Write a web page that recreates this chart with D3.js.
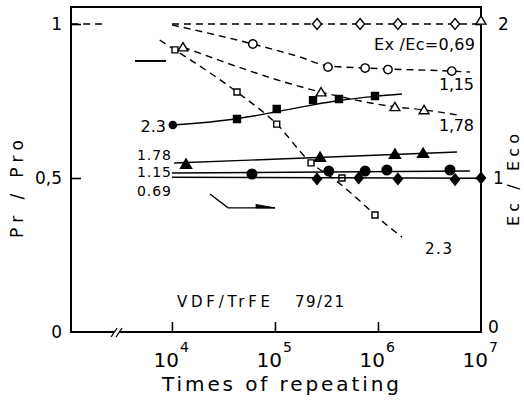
<!DOCTYPE html>
<html><head><meta charset="utf-8">
<script src="https://cdn.jsdelivr.net/npm/d3@7"></script>
<style>
body{margin:0;background:#fff}
svg{display:block}
text{font-family:"DejaVu Sans",sans-serif;fill:#000}
</style>
</head><body>
<svg id="c" width="524" height="400"></svg>
<script>
// ---------- axis ticks ----------
const xTicks = [1e4, 1e5, 1e6, 1e7];
const xTickExp = ["4", "5", "6", "7"];
const yLeftTicks = [0, 0.5, 1];
const yLeftLabels = ["0", "0,5", "1"];
const yRightTicks = [0, 1, 2];
const yRightLabels = ["0", "1", "2"];

// ---------- Pr/Pro (dashed, open markers, left axis 0-1) ----------
// Ex/Ec = 0.69 (open diamonds)
const pr069LineN = [1e4, 1e7];
const pr069LineV = [1.0, 1.0];
const pr069PreN = [1050, 2140];          // dashed stub left of the break
const pr069PreV = [1.0, 1.0];
const pr069N = [2.56e5, 6.7e5, 1.56e6, 5.6e6];
const pr069V = [1.0, 1.0, 1.0, 1.0];
const prEdgeN = [1e7];                     // open triangle on right edge
const prEdgeV = [1.012];
// Ex/Ec = 1.15 (open circles)
const pr115LineN = [1e4, 6.1e4, 1.75e5, 3.27e5, 7.5e5, 1.25e6, 5.2e6, 7.8e6];
const pr115LineV = [0.997, 0.935, 0.893, 0.864, 0.857, 0.854, 0.847, 0.844];
const pr115N = [6.1e4, 3.27e5, 7.5e5, 1.25e6, 5.2e6];
const pr115V = [0.935, 0.86, 0.857, 0.852, 0.847];
// Ex/Ec = 1.78 (open triangles)
const pr178LineN = [1.28e4, 2.8e5, 1.46e6, 2.8e6, 5.85e6];
const pr178LineV = [0.925, 0.779, 0.731, 0.721, 0.705];
const pr178N = [1.28e4, 2.8e5, 1.46e6, 2.8e6];
const pr178V = [0.925, 0.779, 0.731, 0.721];
// Ex/Ec = 2.3 (open squares)
const pr23LineN = [7.6e3, 1.07e4, 4.28e4, 1.04e5, 2.24e5, 3.83e5, 7.0e5, 9.35e5, 1.71e6];
const pr23LineV = [0.948, 0.916, 0.779, 0.675, 0.549, 0.494, 0.419, 0.380, 0.308];
const pr23N = [1.07e4, 4.28e4, 1.04e5, 2.24e5, 4.47e5, 9.35e5];
const pr23V = [0.916, 0.779, 0.675, 0.549, 0.50, 0.380];

// ---------- Ec/Eco (solid, filled markers, right axis 0-2) ----------
// 2.3 (filled circle + filled squares)
const ec23LineN = [1.02e4, 4.28e4, 1.04e5, 2.34e5, 4.18e5, 9.35e5, 1.71e6];
const ec23LineV = [1.344, 1.385, 1.43, 1.475, 1.503, 1.53, 1.545];
const ec23CircN = [1.02e4];
const ec23CircV = [1.344];
const ec23N = [4.28e4, 1.04e5, 2.34e5, 4.18e5, 9.35e5];
const ec23V = [1.383, 1.448, 1.506, 1.513, 1.532];
// 1.78 (filled triangles)
const ec178LineN = [1.05e4, 5.85e6];
const ec178LineV = [1.097, 1.169];
const ec178N = [1.37e4, 2.74e5, 1.46e6, 2.74e6];
const ec178V = [1.091, 1.136, 1.156, 1.162];
// 1.15 (filled circles)
const ec115LineN = [1e4, 7.8e6];
const ec115LineV = [1.032, 1.045];
const ec115N = [5.98e4, 3.33e5, 7.5e5, 1.22e6, 5.0e6];
const ec115V = [1.026, 1.045, 1.045, 1.052, 1.052];
// 0.69 (filled diamonds)
const ec069LineN = [1e4, 1e7];
const ec069LineV = [1.005, 0.998];
const ec069N = [2.56e5, 6.5e5, 1.56e6, 5.6e6, 1e7];
const ec069V = [0.994, 1.0, 0.994, 0.99, 1.0];

// ---------- scales ----------
const svg = d3.select("#c");
const x = d3.scaleLog().domain([10 ** 3.02, 1e7]).range([71, 481]);
const yL = d3.scaleLinear().domain([0, 1]).range([332, 24]);
const yR = d3.scaleLinear().domain([0, 2]).range([332, 24]);
const X0 = x.range()[0], X1 = x.range()[1], YB = yL(0), YT = yL(1.055);

// ---------- frame ----------
const frame = svg.append("g").attr("stroke", "#000").attr("stroke-width", 2).attr("fill", "none");
frame.append("path").attr("d", `M${X0},${YT}H${X1}V${YB}H${X0}Z`);

// x ticks (inward)
const gx = svg.append("g").attr("transform", `translate(0,${YB})`)
  .call(d3.axisBottom(x).tickValues(xTicks.slice(0, 3)).tickSize(-10).tickFormat(""));
gx.select(".domain").remove();
gx.selectAll(".tick line").attr("stroke-width", 1.6);
// y ticks (inward)
const gy = svg.append("g").attr("transform", `translate(${X0},0)`)
  .call(d3.axisLeft(yL).tickValues([0.5, 1]).tickSize(-10).tickFormat(""));
gy.select(".domain").remove();
gy.selectAll(".tick line").attr("stroke-width", 1.6);
const gyr = svg.append("g").attr("transform", `translate(${X1},0)`)
  .call(d3.axisRight(yR).tickValues([1, 2]).tickSize(-6).tickFormat(""));
gyr.select(".domain").remove();
gyr.selectAll(".tick line").attr("stroke-width", 1.6);

// axis break marks
const bx = x(2.93e3);
svg.append("rect").attr("x", bx - 3).attr("y", YB - 3).attr("width", 5).attr("height", 6).attr("fill", "#fff");
[-3, 2].forEach(o => svg.append("line").attr("x1", bx + o - 3).attr("y1", YB + 5)
  .attr("x2", bx + o + 3).attr("y2", YB - 4).attr("stroke", "#000").attr("stroke-width", 1.3));

// x tick labels: 10^n
xTicks.forEach((t, i) => {
  svg.append("text").attr("x", x(t) + 7).attr("y", 367).attr("text-anchor", "end")
    .attr("font-size", 20).text("10");
  svg.append("text").attr("x", x(t) + 8).attr("y", 352).attr("font-size", 14).text(xTickExp[i]);
});
// y tick labels
yLeftTicks.forEach((t, i) => {
  svg.append("text").attr("x", 62).attr("y", yL(t) + 6).attr("text-anchor", "end")
    .attr("font-size", 17).text(yLeftLabels[i]);
});
yRightTicks.forEach((t, i) => {
  svg.append("text").attr("x", 488 + i * 5).attr("y", yR(t) + (t === 0 ? 1 : 6))
    .attr("font-size", 17).text(yRightLabels[i]);
});

// axis titles
svg.append("text").attr("x", 162).attr("y", 391).attr("font-size", 20)
  .attr("textLength", 237).attr("lengthAdjust", "spacing").text("Times of repeating");
svg.append("text").attr("transform", "translate(23,238) rotate(-90)").attr("font-size", 17)
  .attr("textLength", 98).attr("lengthAdjust", "spacing").text("Pr / Pro");
svg.append("text").attr("transform", "translate(519,226) rotate(-90)").attr("font-size", 16)
  .attr("textLength", 92).attr("lengthAdjust", "spacing").text("Ec / Eco");

// ---------- helpers ----------
const zip = (N, V) => N.map((n, i) => [n, V[i]]);
const lineL = d3.line().x(d => x(d[0])).y(d => yL(d[1])).curve(d3.curveMonotoneX);
const lineR = d3.line().x(d => x(d[0])).y(d => yR(d[1])).curve(d3.curveMonotoneX);
const dash = "7,5";
function drawLine(gen, N, V, dashed) {
  svg.append("path").attr("d", gen(zip(N, V))).attr("fill", "none").attr("stroke", "#000")
    .attr("stroke-width", 1.4).attr("stroke-dasharray", dashed ? dash : null);
}
const shapes = {
  circle: r => d3.symbol(d3.symbolCircle, Math.PI * r * r)(),
  square: s => `M${-s/2},${-s/2}h${s}v${s}h${-s}Z`,
  triangle: s => `M0,${-s*0.5}L${s*0.55},${s*0.42}L${-s*0.55},${s*0.42}Z`,
  diamond: s => `M0,${-s*0.55}L${s*0.45},0L0,${s*0.55}L${-s*0.45},0Z`
};
function drawMarks(scale, N, V, shape, size, filled) {
  svg.append("g").selectAll("path").data(zip(N, V)).join("path")
    .attr("transform", d => `translate(${x(d[0])},${scale(d[1])})`)
    .attr("d", shapes[shape](size))
    .attr("fill", filled ? "#000" : "#fff").attr("stroke", "#000").attr("stroke-width", 1.4);
}

// ---------- Pr/Pro dashed ----------
drawLine(lineL, pr069PreN, pr069PreV, true);
drawLine(lineL, pr069LineN, pr069LineV, true);
drawLine(lineL, pr115LineN, pr115LineV, true);
drawLine(lineL, pr178LineN, pr178LineV, true);
drawLine(lineL, pr23LineN, pr23LineV, true);
drawMarks(yL, pr069N, pr069V, "diamond", 10, false);
drawMarks(yL, prEdgeN, prEdgeV, "triangle", 9, false);
drawMarks(yL, pr115N, pr115V, "circle", 4.2, false);
drawMarks(yL, pr178N, pr178V, "triangle", 9, false);
drawMarks(yL, pr23N, pr23V, "square", 6, false);

// ---------- Ec/Eco solid ----------
drawLine(lineR, ec23LineN, ec23LineV, false);
drawLine(lineR, ec178LineN, ec178LineV, false);
drawLine(lineR, ec115LineN, ec115LineV, false);
drawLine(lineR, ec069LineN, ec069LineV, false);
drawMarks(yR, ec23CircN, ec23CircV, "circle", 3.6, true);
drawMarks(yR, ec23N, ec23V, "square", 7, true);
drawMarks(yR, ec178N, ec178V, "triangle", 10, true);
drawMarks(yR, ec115N, ec115V, "circle", 4.8, true);
drawMarks(yR, ec069N, ec069V, "diamond", 10, true);

// ---------- annotations ----------
// indicator line pointing to left axis (dashed group)
svg.append("line").attr("x1", x(4.38e3)).attr("x2", x(8.74e3)).attr("y1", yL(0.88)).attr("y2", yL(0.88))
  .attr("stroke", "#000").attr("stroke-width", 2);
// bent arrow pointing to right axis (solid group)
svg.append("path").attr("d", d3.line()([[x(2.34e4), yL(0.448)], [x(3.5e4), yL(0.403)], [x(1e5), yL(0.403)]]))
  .attr("fill", "none").attr("stroke", "#000").attr("stroke-width", 1.4);
svg.append("path").attr("d", d3.line()([[x(6.5e4), yL(0.403)], [x(1e5), yL(0.403)], [x(6.5e4), yL(0.414)]]))
  .attr("fill", "#000").attr("stroke", "#000").attr("stroke-width", 1);

function label(t, xx, yy, size, anchor, len) {
  const s = svg.append("text").attr("x", xx).attr("y", yy).attr("font-size", size)
    .attr("text-anchor", anchor || "start").text(t);
  if (len) s.attr("textLength", len).attr("lengthAdjust", "spacing");
}
label("2.3", 166, 132, 16, "end");
label("1.78", 171, 160, 14, "end", 34);
label("1.15", 171, 177, 14, "end", 34);
label("0.69", 171, 196, 14, "end", 34);
label("Ex /Ec=0,69", 374, 50, 16, "start", 101);
label("1,15", 439, 90, 16, "start", 35);
label("1,78", 439, 131, 16, "start", 35);
label("2.3", 425, 254, 15, "start", 27);
label("VDF/TrFE", 177, 307, 15, "start", 93);
label("79/21", 295, 307, 15, "start", 49);
</script>
</body></html>
